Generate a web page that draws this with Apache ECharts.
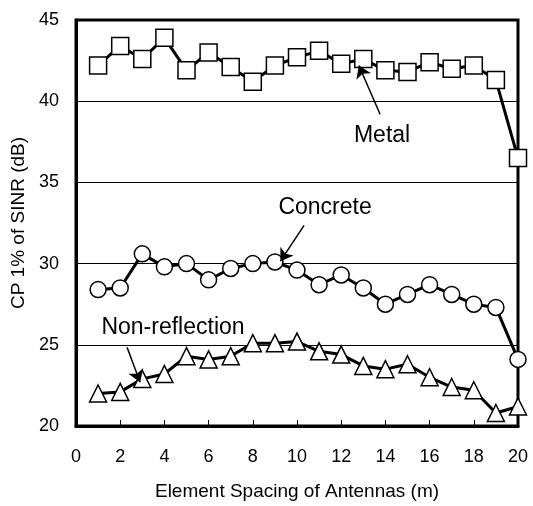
<!DOCTYPE html>
<html>
<head>
<meta charset="utf-8">
<script src="https://cdn.jsdelivr.net/npm/echarts@6/dist/echarts.min.js"></script>
<style>
html,body{margin:0;padding:0;background:#fff;}
#main{width:533px;height:506px;}
</style>
</head>
<body>
<div id="main"></div>
<script>
const xValues = [1,2,3,4,5,6,7,8,9,10,11,12,13,14,15,16,17,18,19,20];
const metal = [42.2,43.4,42.6,43.9,41.9,43.0,42.1,41.2,42.2,42.7,43.1,42.3,42.6,41.9,41.8,42.4,42.0,42.2,41.3,36.5];
const concrete = [28.4,28.5,30.6,29.8,30.0,29.0,29.7,30.0,30.1,29.6,28.7,29.3,28.5,27.5,28.1,28.7,28.1,27.5,27.3,24.1];
const nonReflection = [22.0,22.1,22.9,23.2,24.3,24.1,24.3,25.1,25.1,25.2,24.6,24.4,23.7,23.5,23.8,23.0,22.4,22.2,20.8,21.2];
const xTicks = [0,2,4,6,8,10,12,14,16,18,20];
const yTicks = [20,25,30,35,40,45];

// annotations in data coordinates: [label, textPos, arrowFrom, arrowTo]
const annotations = [
  ['Metal', [13.85, 37.9], [13.76, 39.2], [12.8, 42.2]],
  ['Concrete', [11.27, 33.45], [10.32, 32.35], [9.25, 30.15]],
  ['Non-reflection', [4.39, 26.05], [2.31, 24.85], [2.9, 22.7]]
];

const chart = echarts.init(document.getElementById('main'), null, {renderer:'canvas'});
const font = 'Liberation Sans, Arial, sans-serif';

function mk(data, name, symbol, size) {
  return {
    type: 'line', name: name,
    data: xValues.map((x, i) => [x, data[i]]),
    symbol: symbol, symbolSize: size,
    lineStyle: {color: '#000', width: 3},
    itemStyle: {color: '#fff', borderColor: '#000', borderWidth: 1.5},
    showAllSymbol: true,
    animation: false,
    z: 3
  };
}

const option = {
  animation: false,
  backgroundColor: '#fff',
  grid: {left: 76, right: 15, top: 20, bottom: 79, show: true, borderColor: '#000', borderWidth: 3, backgroundColor: 'transparent'},
  xAxis: {
    type: 'value', min: xTicks[0], max: xTicks[xTicks.length-1], interval: 2,
    name: 'Element Spacing of Antennas (m)', nameLocation: 'middle', nameGap: 56,
    nameTextStyle: {fontFamily: font, fontSize: 19, color: '#000'},
    axisLine: {show: true, lineStyle: {color: '#000', width: 3}},
    axisTick: {show: true, inside: true, length: 6, lineStyle: {color: '#000', width: 1}},
    axisLabel: {fontFamily: font, fontSize: 18, color: '#000', margin: 22},
    splitLine: {show: false}
  },
  yAxis: {
    type: 'value', min: yTicks[0], max: yTicks[yTicks.length-1], interval: 5,
    name: 'CP 1% of SINR (dB)', nameLocation: 'middle', nameGap: 43,
    nameTextStyle: {fontFamily: font, fontSize: 19, color: '#000'},
    axisLine: {show: true, lineStyle: {color: '#000', width: 3}},
    axisTick: {show: false},
    axisLabel: {fontFamily: font, fontSize: 18, color: '#000', margin: 17},
    splitLine: {show: true, lineStyle: {color: '#000', width: 1}}
  },
  series: [
    mk(metal, 'Metal', 'rect', 17),
    mk(concrete, 'Concrete', 'circle', 16),
    mk(nonReflection, 'Non-reflection', 'triangle', 17),
    {
      type: 'lines', coordinateSystem: 'cartesian2d', z: 5,
      symbol: ['none', 'arrow'], symbolSize: [0, 12],
      lineStyle: {color: '#000', width: 1.5, opacity: 1},
      itemStyle: {color: '#000'},
      data: annotations.map(a => ({coords: [a[2], a[3]]})),
      animation: false
    }
  ]
};
chart.setOption(option);

const texts = annotations.map(a => {
  const p = chart.convertToPixel({gridIndex: 0}, a[1]);
  return {
    type: 'text', x: p[0], y: p[1], z: 10,
    style: {text: a[0], fill: '#000', font: '23px ' + font, align: 'center', verticalAlign: 'middle'}
  };
});
chart.setOption({graphic: texts});
</script>
</body>
</html>
